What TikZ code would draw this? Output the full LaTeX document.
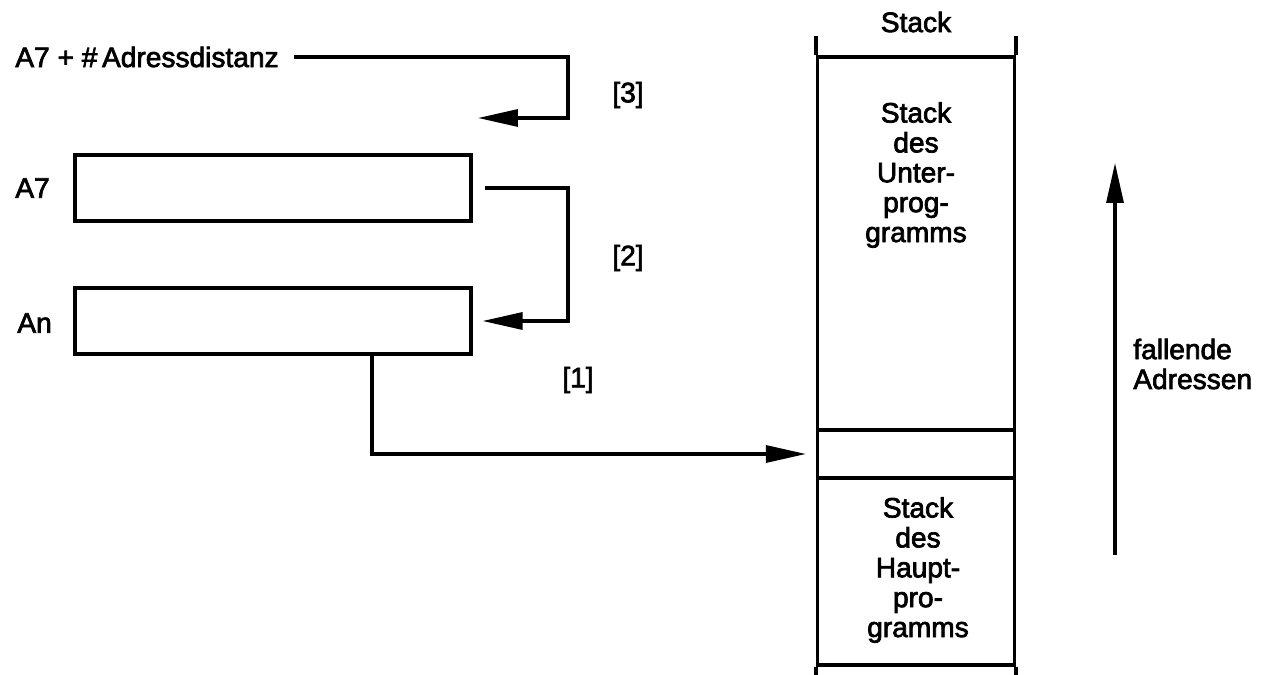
\documentclass[tikz,border=0pt]{standalone}
\usepackage{fontspec}
\setmainfont{Liberation Sans}[BoldFont=Liberation Sans, BoldFeatures={FakeBold=2.5}]
\usetikzlibrary{arrows.meta}

\tikzset{
  line/.style={line width=1.8pt},
  arr/.style={line, -{Triangle[length=0.8cm,width=0.34cm]}},
  regbox/.style={draw, line width=1.8pt, minimum width=7.92cm, minimum height=1.32cm, inner sep=0pt},
  cell/.style={draw, line width=1.8pt, minimum width=3.94cm, inner sep=0pt},
  txt/.style={font=\fontsize{16}{17}\selectfont\bfseries, inner sep=0pt}
}

\begin{document}
\begin{tikzpicture}[x=0.02cm, y=-0.02cm]
\useasboundingbox (0,0) rectangle (1274,675);

% registers
\node[txt, anchor=west] (dist) at (15,57) {A7 + \#\,Adressdistanz};
\node[regbox] (a7) at (273,188) {};
\node[regbox] (an) at (273,321) {};
\node[txt, anchor=west] (a7lbl) at (15,188) {A7};
\node[txt, anchor=west] (anlbl) at (17,323) {An};

% stack
\node[txt] (stacklbl) at (916,22) {Stack};
\node[cell, minimum height=7.46cm] (sub) at (916,243.5) {};
\node[cell, minimum height=0.96cm] (slot) at (916,454) {};
\node[cell, minimum height=3.74cm] (main) at (916,571.5) {};
\node[txt, align=center] (subtxt) at (916,175) {Stack\\des\\Unter-\\prog-\\gramms};
\node[txt, align=center] (maintxt) at (918,570) {Stack\\des\\Haupt-\\pro-\\gramms};
\draw[line] (sub.north west) -- ++(0,-19);
\draw[line] (sub.north east) -- ++(0,-19);
\draw[line] (main.south west) -- ++(0,10);
\draw[line] (main.south east) -- ++(0,10);

% arrows
\coordinate (turn3) at (568,118);
\coordinate (tip3) at (478,118);
\draw[arr] ([xshift=0.3cm]dist.east) -| (turn3) -- (tip3);
\coordinate (turn2) at (568,321);
\draw[arr] ([xshift=0.24cm]a7.east) -| (turn2) -- ([xshift=0.2cm]an.east);
\coordinate (turn1) at (372,454);
\draw[arr] (an.south -| turn1) |- ([xshift=-0.2cm]slot.west);

\node[txt] (lbl3) at (628,95) {[3]};
\node[txt] (lbl2) at (628,258) {[2]};
\node[txt] (lbl1) at (578,380) {[1]};

% address direction
\coordinate (up0) at (1115,555);
\coordinate (up1) at (1115,163);
\draw[arr] (up0) -- (up1);
\node[txt, anchor=west, align=left] (fall) at (1133,364) {fallende\\Adressen};

\end{tikzpicture}
\end{document}
